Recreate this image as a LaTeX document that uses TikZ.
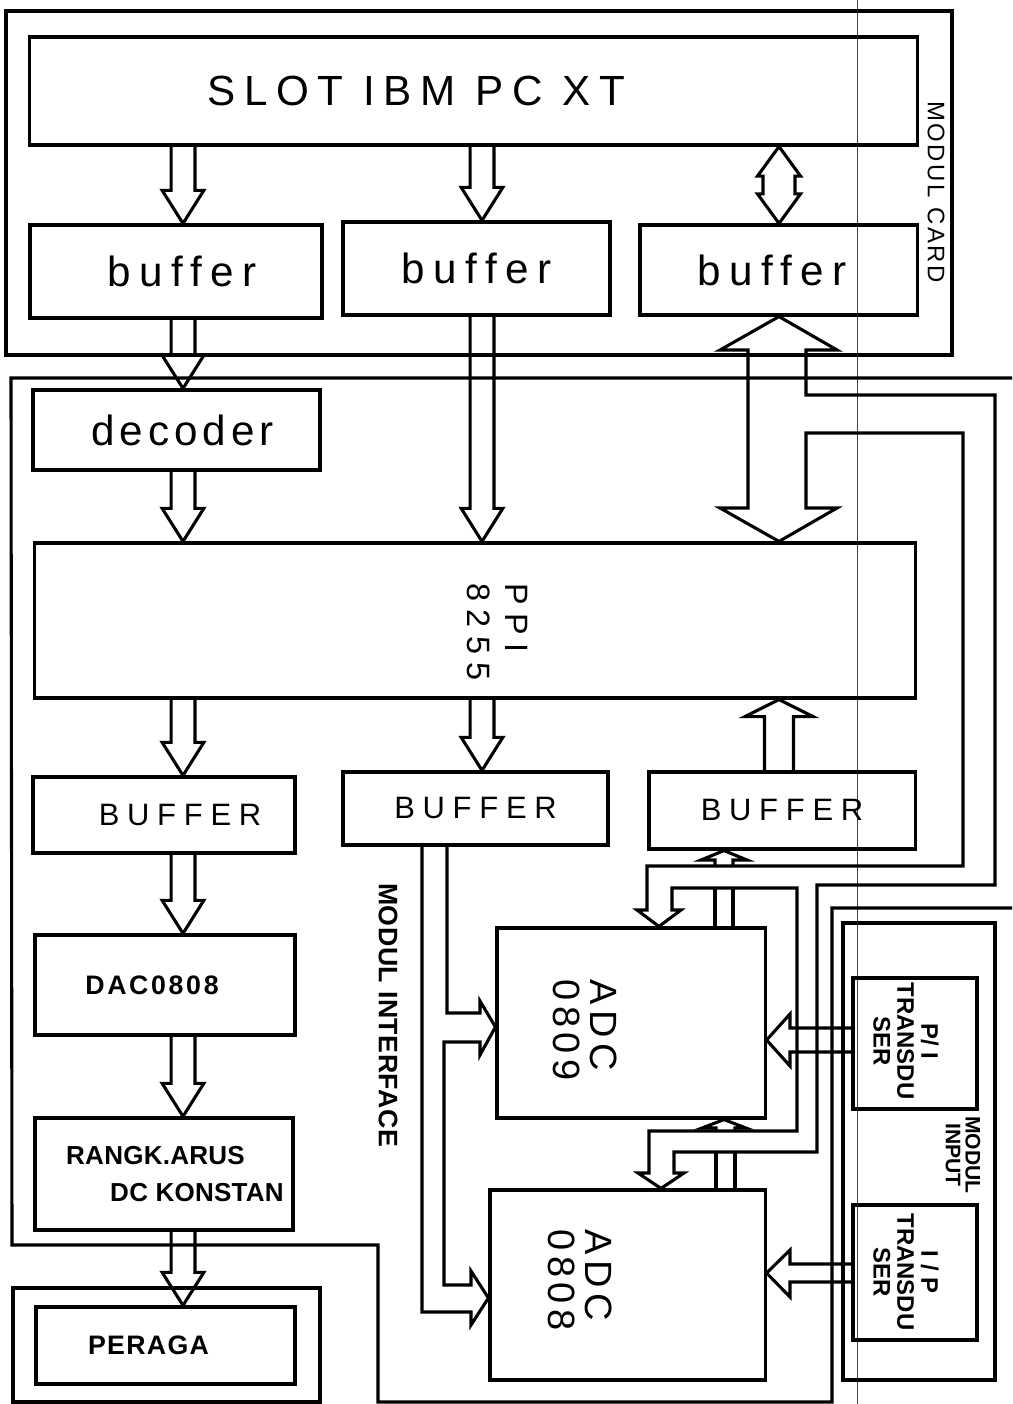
\documentclass[tikz,border=0pt]{standalone}
\usepackage{fontspec}
\setmainfont{Liberation Sans}
\usetikzlibrary{calc}

% size, letter spacing, leading
\newcommand{\plotfont}[3]{\fontsize{#1}{#3}\selectfont\addfontfeature{LetterSpace=#2}}

\tikzset{
  blk/.style={rectangle, draw, line width=2.2pt, inner sep=0pt, align=center},
  framebox/.style={draw, line width=2.2pt},
  busline/.style={draw, line width=2.2pt, line join=miter},
  sidetext/.style={rotate=-90, inner sep=0pt},
  scanline/.style={draw=black!75, line width=0.7pt},
}

% hollow bus arrow from #1 to the tip #2 (vertical); shaft, head half widths, head length
\newcommand{\busarrowx}[5]{%
  \draw[busline] let \p1=(#1), \p2=(#2), \n1={sign(\y2-\y1)*#5} in
    ({\x2-#3},\y1) -- ({\x2-#3},{\y2-\n1}) -- ({\x2-#4},{\y2-\n1})
    -- (\x2,\y2) -- ({\x2+#4},{\y2-\n1}) -- ({\x2+#3},{\y2-\n1})
    -- ({\x2+#3},\y1);
}
\newcommand{\busarrow}[2]{\busarrowx{#1}{#2}{8.5pt}{14.8pt}{23.5pt}}

\begin{document}
\begin{tikzpicture}[x=0.025cm, y=-0.025cm]
\useasboundingbox (0,0) rectangle (1012,1404);

% column guides
\coordinate (colL) at (183,0);
\coordinate (colM) at (482,0);
\coordinate (colR) at (779,0);
\coordinate (tap9) at (659,0);
\coordinate (tap8) at (661,0);
\coordinate (ret)  at (724,0);
\coordinate (row9) at (0,1027);
\coordinate (row8) at (0,1298);
\coordinate (rowPI) at (0,1040);
\coordinate (rowIP) at (0,1273);

% scanner streak
\draw[scanline] (857,0) -- (857,1404);

% Modul card
\draw[framebox] (6,11) rectangle (952,355);
\node[blk, minimum width=22.175cm, minimum height=2.7cm, font=\plotfont{30}{20}{30}] (slot) at (473.5,91) {\hspace*{-2.85cm}SLOT IBM PC XT};
\node[blk, minimum width=7.3cm, minimum height=2.325cm, font=\plotfont{30}{20}{30}] (buf1) at (176,271.5) {\hspace*{0.3cm}buffer};
\node[blk, minimum width=6.675cm, minimum height=2.325cm, font=\plotfont{30}{20}{30}] (buf2) at (476.5,268.5) {buffer};
\node[blk, minimum width=6.925cm, minimum height=2.25cm, font=\plotfont{30}{20}{30}] (buf3) at (778.5,270) {\hspace*{-0.33cm}buffer};
\node[sidetext, font=\plotfont{17}{11}{17}] (cardtext) at (936,192) {MODUL CARD};

\busarrow{slot.south -| colL}{buf1.north -| colL}
\busarrow{slot.south -| colM}{buf2.north -| colM}
\draw[busline] let \p1=(slot.south -| colR), \p2=(buf3.north -| colR) in
  (\p1) -- ({\x1-15.3pt},{\y1-21pt}) -- ({\x1-11.4pt},{\y1-21pt}) -- ({\x1-11.4pt},{\y2+21pt})
  -- ({\x1-15.3pt},{\y2+21pt}) -- (\p2) -- ({\x1+15.3pt},{\y2+21pt}) -- ({\x1+11.4pt},{\y2+21pt})
  -- ({\x1+11.4pt},{\y1-21pt}) -- ({\x1+15.3pt},{\y1-21pt}) -- cycle;

% Modul interface
\draw[framebox] (1012,378) -- (11,378) -- (12,1245) -- (378,1245) -- (378,1402) -- (832,1402) -- (832,908) -- (1012,908);
\node[blk, minimum width=7.175cm, minimum height=2cm, font=\plotfont{30}{12}{30}] (dec) at (176.5,430) {\hspace*{0.3cm}decoder};
\node[blk, minimum width=22cm, minimum height=3.875cm] (ppi) at (475,620.5) {};
\node[sidetext, align=left, font=\plotfont{23}{25}{27}] (ppitext) at (497,632) {PPI\\8255};

\node[blk, minimum width=6.55cm, minimum height=1.9cm, font=\plotfont{22}{25}{22}] (bufA) at (164,815) {\hspace*{0.8cm}BUFFER};
\node[blk, minimum width=6.625cm, minimum height=1.825cm, font=\plotfont{22}{25}{22}] (bufB) at (475.5,808.5) {BUFFER};
\node[blk, minimum width=6.65cm, minimum height=1.925cm, font=\plotfont{22}{25}{22}] (bufC) at (782,810.5) {BUFFER};
\node[blk, minimum width=6.5cm, minimum height=2.5cm, font=\bfseries\plotfont{19}{10}{19}] (dac) at (165,985) {\hspace*{-0.65cm}DAC0808};
\node[blk, minimum width=6.45cm, minimum height=2.8cm, align=left, font=\bfseries\plotfont{18.5}{1}{26}] (rangk) at (164,1174) {\hspace*{0.55cm}RANGK.ARUS\\\hspace*{1.65cm}DC KONSTAN};
\node[sidetext, font=\bfseries\plotfont{19}{2}{19}] (ifacetext) at (388,1015) {MODUL INTERFACE};

\node[blk, minimum width=6.7cm, minimum height=4.75cm] (adc9) at (631,1023) {};
\node[sidetext, align=left, font=\plotfont{27}{15}{26}] (adc9text) at (585,1030) {ADC\\0809};
\node[blk, minimum width=6.875cm, minimum height=4.75cm] (adc8) at (627.5,1285) {};
\node[sidetext, align=left, font=\plotfont{27}{15}{26}] (adc8text) at (580,1280) {ADC\\0808};

% Peraga
\draw[framebox] (13,1288) rectangle (320,1402);
\node[blk, minimum width=6.475cm, minimum height=1.925cm, font=\bfseries\plotfont{19}{5}{19}] (peraga) at (165.5,1345.5) {\hspace*{-0.85cm}PERAGA};

% Modul input
\draw[framebox] (843,923) rectangle (995,1380);
\node[blk, minimum width=3.1cm, minimum height=3.275cm] (pi) at (915,1043.5) {};
\node[sidetext, align=center, font=\bfseries\plotfont{17}{0}{17}] (pitext) at (906,1041) {P/ I\\TRANSDU\\SER};
\node[blk, minimum width=3.1cm, minimum height=3.375cm] (ip) at (915,1272.5) {};
\node[sidetext, align=center, font=\bfseries\plotfont{17}{0}{17}] (iptext) at (906,1272) {I / P\\TRANSDU\\SER};
\node[sidetext, align=center, font=\bfseries\plotfont{15}{0}{14}] (inputtext) at (963,1155) {MODUL\\INPUT};

% buses through the interface
\busarrow{buf1.south -| colL}{dec.north -| colL}
\busarrow{dec.south -| colL}{ppi.north -| colL}
\busarrow{buf2.south -| colM}{ppi.north -| colM}
\busarrow{ppi.south -| colL}{bufA.north -| colL}
\busarrow{ppi.south -| colM}{bufB.north -| colM}
\busarrowx{bufC.north -| colR}{ppi.south -| colR}{10.3pt}{24.2pt}{12.1pt}
\busarrow{bufA.south -| colL}{dac.north -| colL}
\busarrow{dac.south -| colL}{rangk.north -| colL}
\busarrow{rangk.south -| colL}{peraga.north -| colL}

% data bus: card buffer, PPI and both ADCs
\draw[busline] (748,508) -- (748,350) -- (720,350) -- (buf3.south -| colR) -- (837,350) -- (806,350)
  |- (995,395) |- (817,885) |- (674,1152) -- (674,1173) -- (684,1173) -- (adc8.north -| tap8)
  -- (638,1173) -- (649,1173) |- (797,1131) |- (672,888) -- (672,910) -- (681,910)
  -- (adc9.north -| tap9) -- (637,910) -- (647,910) |- (963,866) |- (806,433)
  -- (806,508) -- (837,508) -- (ppi.north -| colR) -- (720,508) -- cycle;

% ADC outputs back to the buffer
\draw[busline] (715,866) -- (715,860) -- (701,860) -- (bufC.south -| ret) -- (747,860) -- (733,860) -- (733,866);
\draw[busline] (715,888) -- (715,928) (733,888) -- (733,928);
\draw[busline] (716,1131) -- (716,1128) -- (702,1128) -- (adc9.south -| ret) -- (746,1128) -- (735,1128) -- (735,1131);
\draw[busline] (716,1152) -- (716,1190) (735,1152) -- (735,1190);

% channel select from BUFFER
\draw[busline] (447,845) |- (480,1013) -- (480,1001) -- (adc9.west |- row9) -- (480,1055) -- (480,1042)
  -| (444,1285) -- (471,1285) -- (471,1271) -- (adc8.west |- row8) -- (471,1325) -- (471,1312) -| (422,845);

% transducer inputs
\draw[busline] (853,1028) -- (790,1028) -- (790,1014) -- (adc9.east |- rowPI) -- (790,1066) -- (790,1052) -- (853,1052);
\draw[busline] (853,1264) -- (790,1264) -- (790,1250) -- (adc8.east |- rowIP) -- (790,1297) -- (790,1282) -- (853,1282);

\end{tikzpicture}
\end{document}
